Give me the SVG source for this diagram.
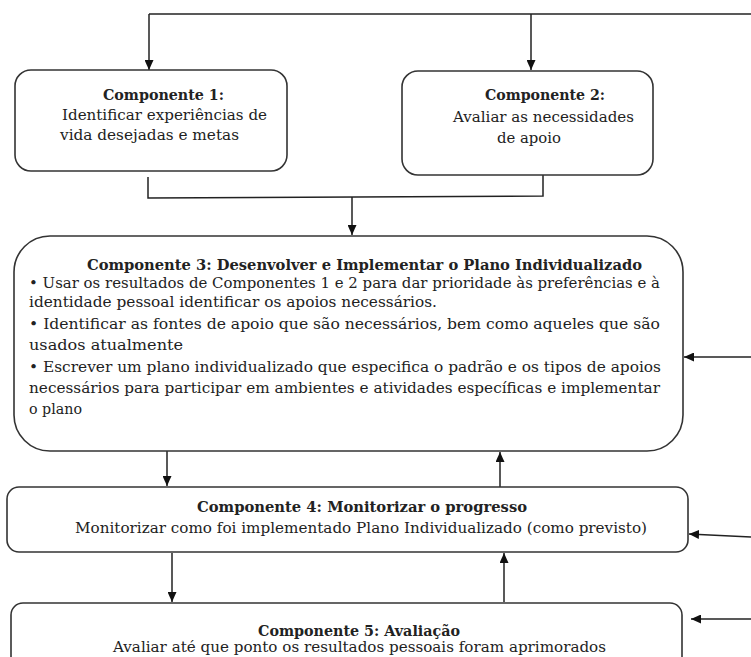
<svg xmlns="http://www.w3.org/2000/svg" width="751" height="657" viewBox="0 0 751 657">
<style>
.box{fill:#fff;stroke:#333;stroke-width:1.6}
.ln{fill:none;stroke:#222;stroke-width:1.5}
.t{font-family:"DejaVu Serif","Liberation Serif",serif;font-size:14px;fill:#222}
.b{font-weight:bold}
</style>
<defs>
<marker id="ah" markerUnits="userSpaceOnUse" markerWidth="10" markerHeight="9" refX="10" refY="4.5" orient="auto">
<path d="M0,0 L10,4.5 L0,9 z" fill="#111"/>
</marker>
</defs>
<rect width="751" height="657" fill="#fff"/>
<g id="connectors">
<path class="ln" d="M149,14 H751"/>
<path class="ln" d="M149,14 V70" marker-end="url(#ah)"/>
<path class="ln" d="M531,14 V70" marker-end="url(#ah)"/>
<path class="ln" d="M148,177 V198 L543,196 V175"/>
<path class="ln" d="M352,197 V235" marker-end="url(#ah)"/>
<path class="ln" d="M751,357 H684" marker-end="url(#ah)"/>
<path class="ln" d="M167,451 V486" marker-end="url(#ah)"/>
<path class="ln" d="M500,487 V452" marker-end="url(#ah)"/>
<path class="ln" d="M751,537 L689,534" marker-end="url(#ah)"/>
<path class="ln" d="M172,553 V602" marker-end="url(#ah)"/>
<path class="ln" d="M504,602 V553" marker-end="url(#ah)"/>
<path class="ln" d="M751,619 H691" marker-end="url(#ah)"/>
</g>
<g id="comp1">
<rect class="box" x="15" y="70" width="272" height="101" rx="16"/>
<text class="t b" x="103" y="100" textLength="121" lengthAdjust="spacingAndGlyphs">Componente 1:</text>
<text class="t" x="62" y="120" textLength="205" lengthAdjust="spacingAndGlyphs">Identificar experiências de</text>
<text class="t" x="60" y="140" textLength="179" lengthAdjust="spacingAndGlyphs">vida desejadas e metas</text>
</g>
<g id="comp2">
<rect class="box" x="402" y="71" width="251" height="104" rx="16"/>
<text class="t b" x="485" y="100" textLength="120" lengthAdjust="spacingAndGlyphs">Componente 2:</text>
<text class="t" x="453" y="122" textLength="181" lengthAdjust="spacingAndGlyphs">Avaliar as necessidades</text>
<text class="t" x="497" y="143" textLength="64" lengthAdjust="spacingAndGlyphs">de apoio</text>
</g>
<g id="comp3">
<rect class="box" x="14" y="236" width="669" height="215" rx="36"/>
<text class="t b" x="87" y="270" textLength="555" lengthAdjust="spacingAndGlyphs">Componente 3: Desenvolver e Implementar o Plano Individualizado</text>
<text class="t" x="29" y="288" textLength="631" lengthAdjust="spacingAndGlyphs">• Usar os resultados de Componentes 1 e 2 para dar prioridade às preferências e à</text>
<text class="t" x="29" y="307" textLength="408" lengthAdjust="spacingAndGlyphs">identidade pessoal identificar os apoios necessários.</text>
<text class="t" x="29" y="329" textLength="631" lengthAdjust="spacingAndGlyphs">• Identificar as fontes de apoio que são necessários, bem como aqueles que são</text>
<text class="t" x="29" y="350" textLength="154" lengthAdjust="spacingAndGlyphs">usados atualmente</text>
<text class="t" x="29" y="372" textLength="632" lengthAdjust="spacingAndGlyphs">• Escrever um plano individualizado que especifica o padrão e os tipos de apoios</text>
<text class="t" x="29" y="393" textLength="631" lengthAdjust="spacingAndGlyphs">necessários para participar em ambientes e atividades específicas e implementar</text>
<text class="t" x="29" y="414" textLength="53" lengthAdjust="spacingAndGlyphs">o plano</text>
</g>
<g id="comp4">
<rect class="box" x="7" y="487" width="681" height="65" rx="12"/>
<text class="t b" x="197" y="512" textLength="330" lengthAdjust="spacingAndGlyphs">Componente 4: Monitorizar o progresso</text>
<text class="t" x="75" y="533" textLength="572" lengthAdjust="spacingAndGlyphs">Monitorizar  como foi implementado Plano Individualizado (como previsto)</text>
</g>
<g id="comp5">
<rect class="box" x="11" y="603" width="671" height="70" rx="12"/>
<text class="t b" x="258" y="636" textLength="202" lengthAdjust="spacingAndGlyphs">Componente 5: Avaliação</text>
<text class="t" x="113" y="652" textLength="493" lengthAdjust="spacingAndGlyphs">Avaliar até que ponto os resultados pessoais foram aprimorados</text>
</g>
</svg>
